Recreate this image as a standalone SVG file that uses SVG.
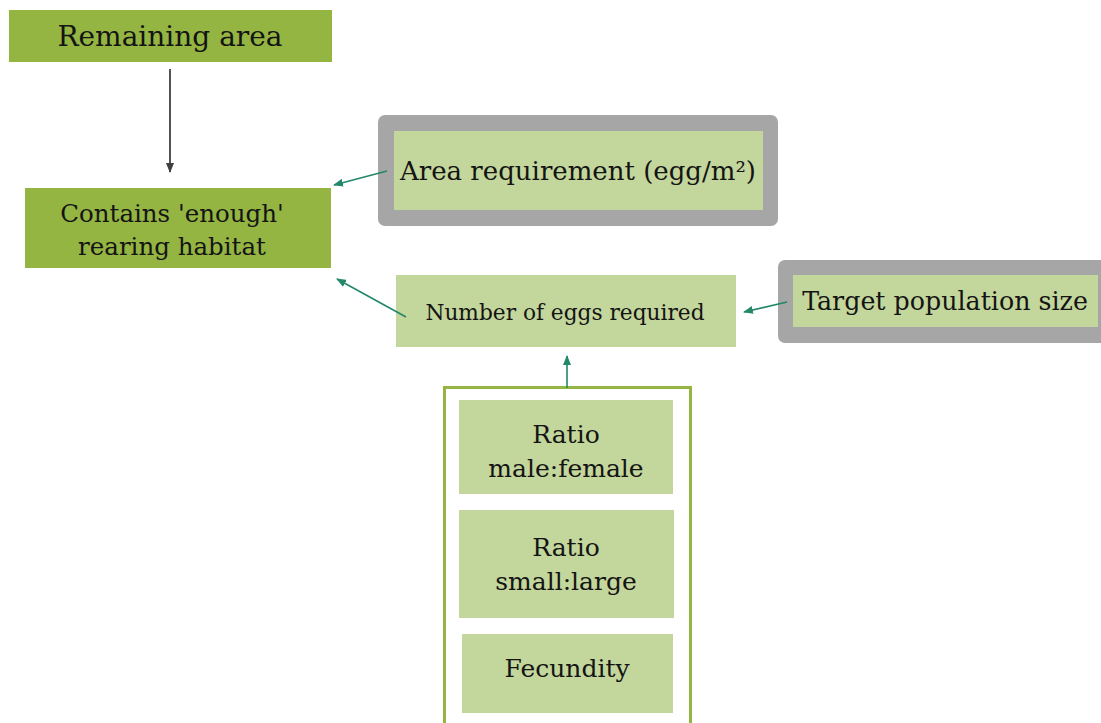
<svg xmlns="http://www.w3.org/2000/svg" width="1101" height="723" viewBox="0 0 1101 723">
<style>
.dark{fill:#95b543;}
.light{fill:#c3d69b;}
.gray{fill:#a6a6a6;}
text{font-family:"DejaVu Serif","Liberation Serif",serif;fill:#141414;text-anchor:middle;}
.teal{stroke:#23876a;stroke-width:1.6;fill:none;}
.blk{stroke:#404040;stroke-width:1.8;fill:none;}
</style>
<defs>
<marker id="ah" markerWidth="10" markerHeight="8" refX="9" refY="4" orient="auto" markerUnits="userSpaceOnUse">
<path d="M0,0 L10,4 L0,8 z" fill="#23876a"/>
</marker>
<marker id="ahb" markerWidth="10" markerHeight="8" refX="9" refY="4" orient="auto" markerUnits="userSpaceOnUse">
<path d="M0,0 L10,4 L0,8 z" fill="#404040"/>
</marker>
</defs>
<rect width="1101" height="723" fill="#ffffff"/>
<g id="remaining-area">
<rect class="dark" x="9" y="10" width="323" height="52"/>
<text x="170" y="46" font-size="28">Remaining area</text>
</g>
<g id="contains-habitat">
<rect class="dark" x="25" y="188" width="306" height="80"/>
<text x="172" y="222" font-size="24.5">Contains 'enough'</text>
<text x="172" y="255" font-size="24.5">rearing habitat</text>
</g>
<g id="area-requirement">
<rect class="gray" x="378" y="115" width="400" height="111" rx="7"/>
<rect class="light" x="394" y="131" width="369" height="79"/>
<text x="578" y="180" font-size="26">Area requirement (egg/m²)</text>
</g>
<g id="number-of-eggs">
<rect class="light" x="396" y="275" width="340" height="72"/>
<text x="565" y="320" font-size="21.7">Number of eggs required</text>
</g>
<g id="target-population">
<rect class="gray" x="778" y="260" width="340" height="83" rx="7"/>
<rect class="light" x="793" y="275" width="305" height="52"/>
<text x="945" y="310" font-size="25.3">Target population size</text>
</g>
<g id="factors">
<rect x="444.5" y="387.5" width="246" height="345" fill="#ffffff" stroke="#95b543" stroke-width="3"/>
</g>
<g id="ratio-male-female">
<rect class="light" x="459" y="400" width="214" height="94"/>
<text x="566" y="443" font-size="25">Ratio</text>
<text x="566" y="477" font-size="25">male:female</text>
</g>
<g id="ratio-small-large">
<rect class="light" x="459" y="510" width="215" height="108"/>
<text x="566" y="556" font-size="25">Ratio</text>
<text x="566" y="590" font-size="25">small:large</text>
</g>
<g id="fecundity">
<rect class="light" x="462" y="634" width="211" height="79"/>
<text x="567" y="677" font-size="25">Fecundity</text>
</g>
<g id="connectors">
<line class="blk" x1="170" y1="69" x2="170" y2="172" marker-end="url(#ahb)"/>
<line class="teal" x1="387" y1="171" x2="334" y2="185" marker-end="url(#ah)"/>
<line class="teal" x1="406" y1="317" x2="337" y2="279" marker-end="url(#ah)"/>
<line class="teal" x1="787" y1="302" x2="744" y2="312" marker-end="url(#ah)"/>
<line class="teal" x1="567" y1="388" x2="567" y2="356" marker-end="url(#ah)"/>
</g>
</svg>
